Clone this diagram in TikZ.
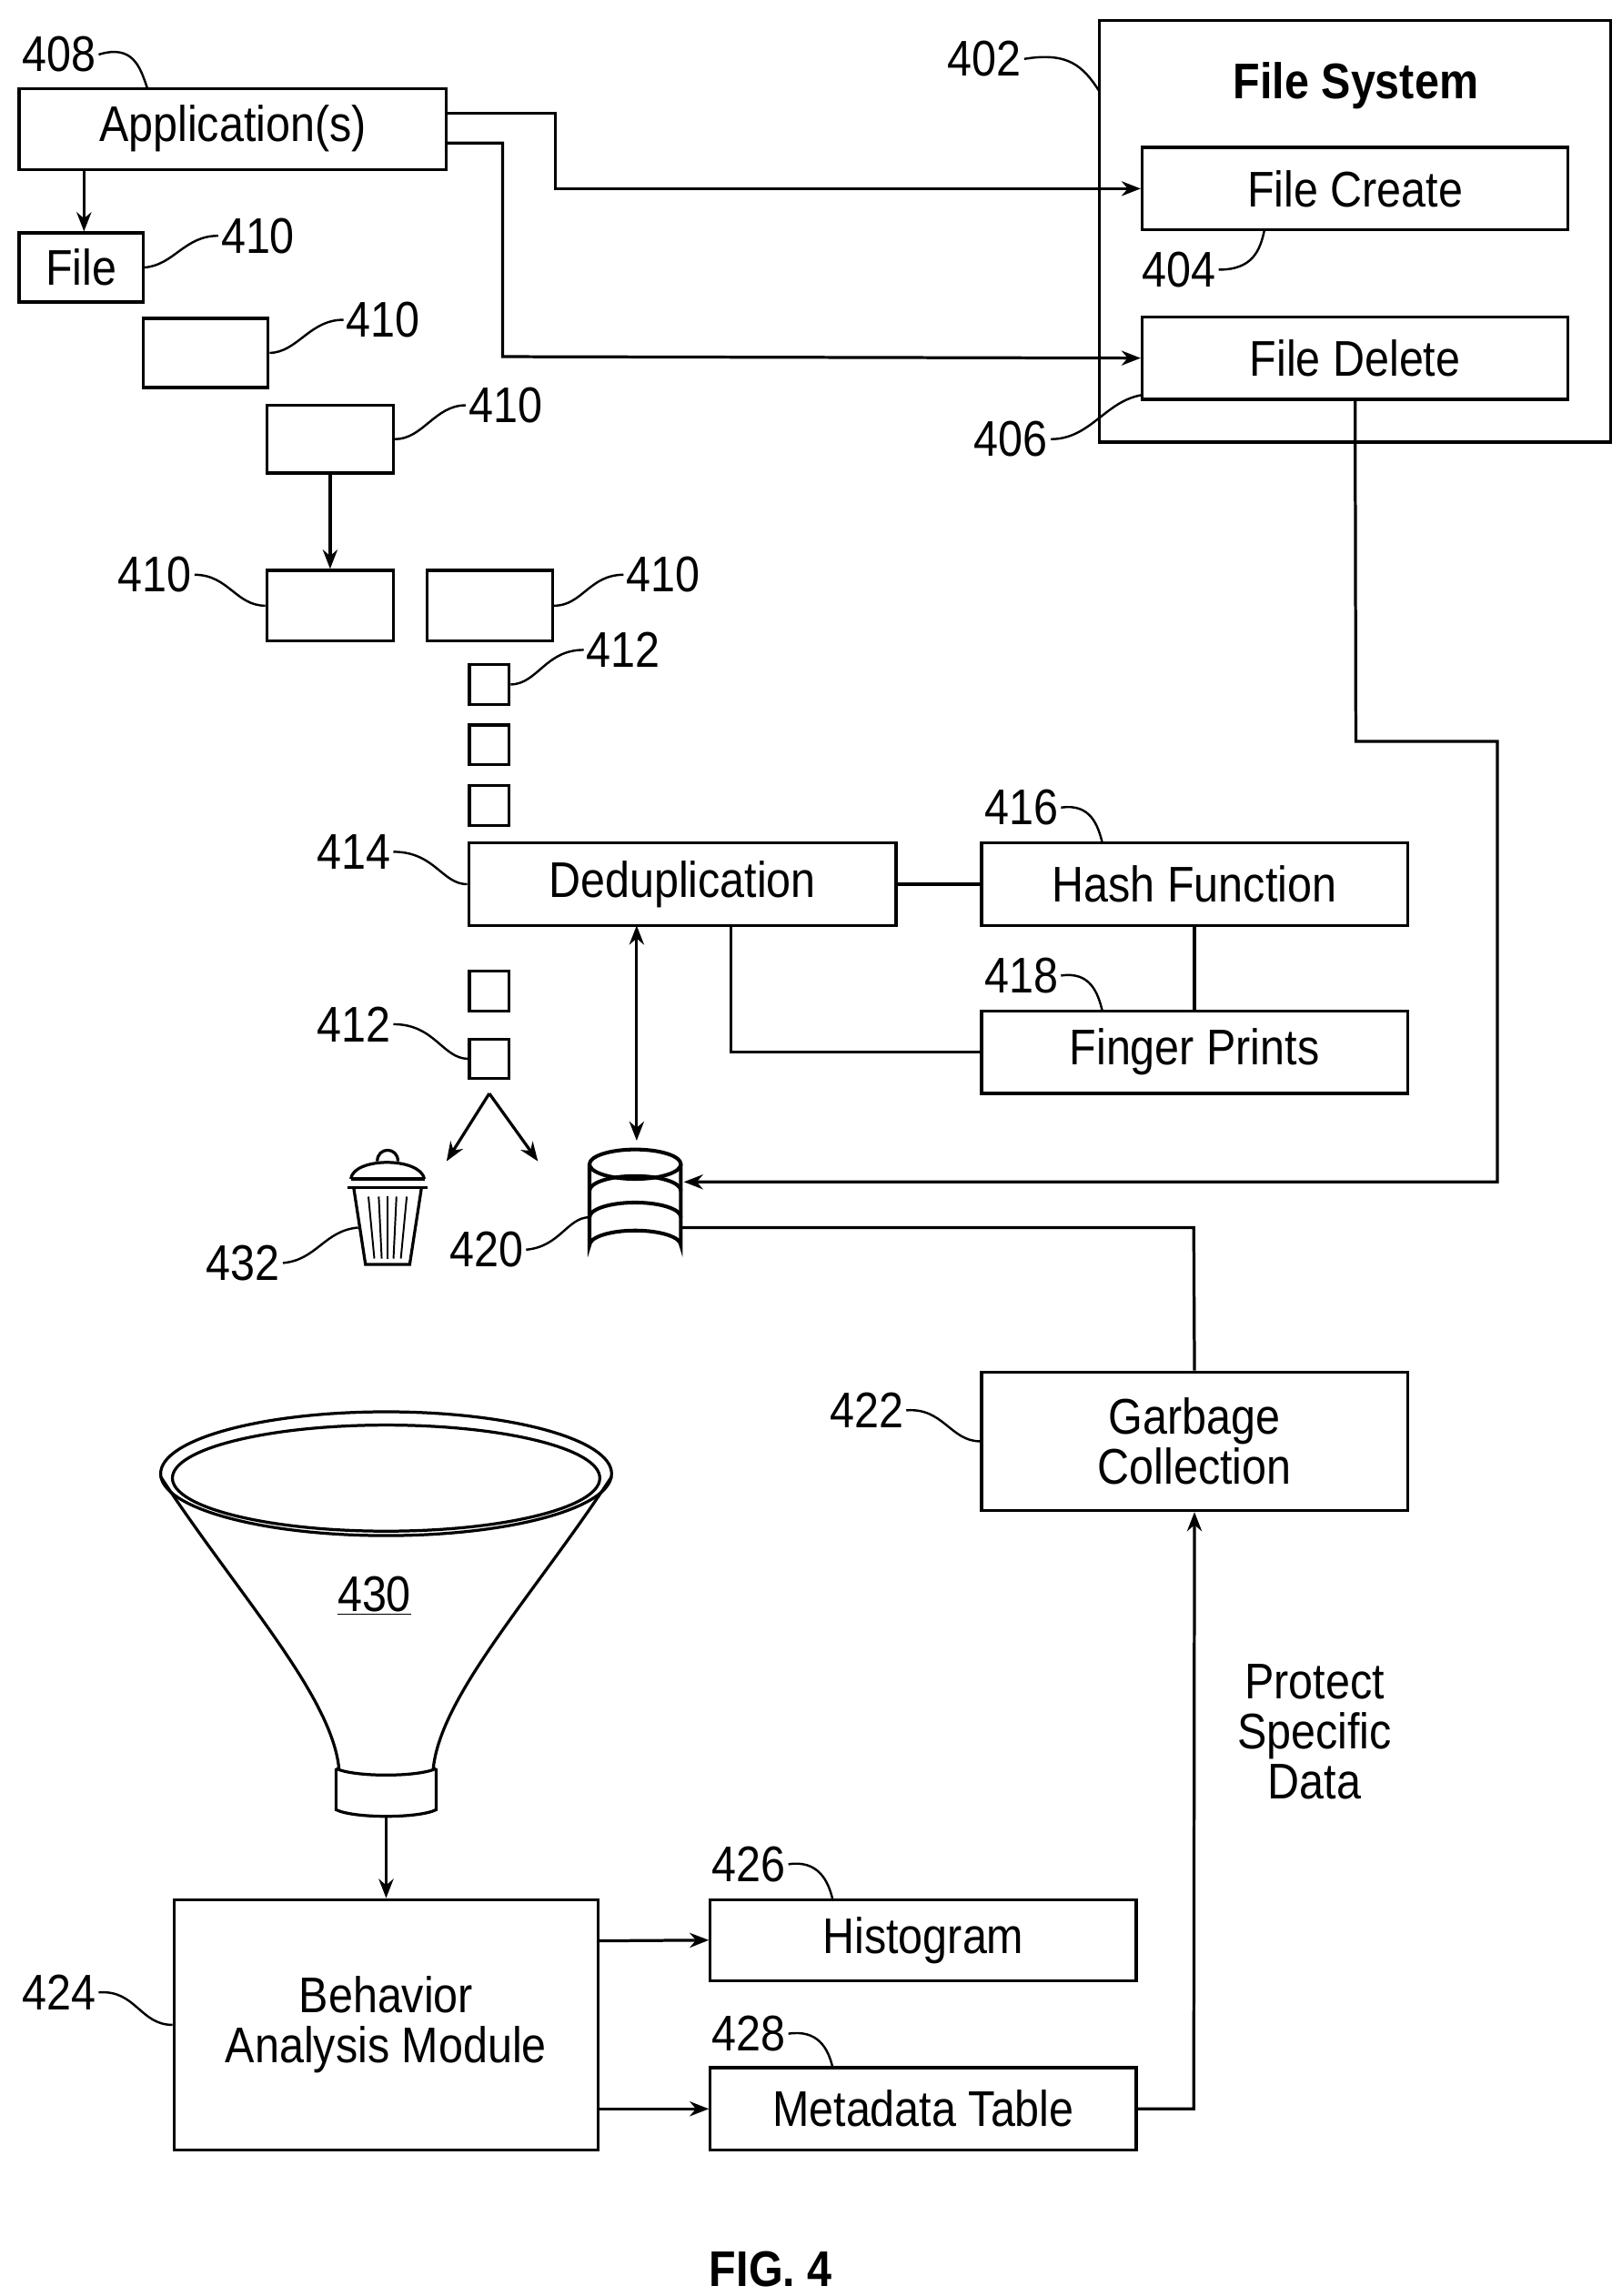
\documentclass[tikz,border=0pt]{standalone}
\usepackage{fontspec}
\setmainfont[FakeStretch=0.88]{Liberation Sans}
\usetikzlibrary{arrows.meta}
\begin{document}
\begin{tikzpicture}[x=1pt,y=-1pt,line width=2pt,
  box/.style={draw,rectangle,inner sep=0pt,font=\fontsize{34}{36}\selectfont},
  lbl/.style={font=\fontsize{34}{36}\selectfont,inner sep=1pt},
  arr/.style={-{Stealth[length=13pt,width=10pt]}},
  sq/.style={draw,minimum size=27pt,inner sep=0pt}]
\useasboundingbox (0,0) rectangle (1100,1558);
% boxes
\node[box,minimum width=290,minimum height=55] (app) at (158,87.5) {Application(s)};
\node[box,minimum width=84,minimum height=47] (file) at (55,181.5) {File};
\node[box,minimum width=85,minimum height=47] (f2) at (139.5,239.5) {};
\node[box,minimum width=86,minimum height=46] (f3) at (224,298) {};
\node[box,minimum width=86,minimum height=48] (f4) at (224,411) {};
\node[box,minimum width=85,minimum height=48] (f5) at (332.5,411) {};
\node[sq] (s1) at (332,464.5) {};
\node[sq] (s2) at (332,505.5) {};
\node[sq] (s3) at (332,546.5) {};
\node[box,minimum width=290,minimum height=56] (dedup) at (463,600) {Deduplication};
\node[box,minimum width=289,minimum height=56] (hash) at (810.5,600) {Hash Function};
\node[box,minimum width=289,minimum height=56] (fp) at (810.5,714) {Finger Prints};
\node[sq] (s4) at (332,672.5) {};
\node[sq] (s5) at (332,718.5) {};
\node[box,minimum width=347,minimum height=286] (fs) at (919.5,157) {};
\node[font=\bfseries\fontsize{34}{36}\selectfont] (fst) at (920,58) {File System};
\node[box,minimum width=289,minimum height=56] (fc) at (919.5,128) {File Create};
\node[box,minimum width=289,minimum height=56] (fd) at (919.5,243) {File Delete};
\node[box,minimum width=289,minimum height=94,align=center] (gc) at (810.5,978) {Garbage\\[-2pt]Collection};
\node[box,minimum width=288,minimum height=170,align=center] (bam) at (262,1374) {Behavior\\[-2pt]Analysis Module};
\node[box,minimum width=289,minimum height=55] (hist) at (626.5,1316.5) {Histogram};
\node[box,minimum width=289,minimum height=56] (meta) at (626.5,1431) {Metadata Table};
\node[lbl,align=center] (prot) at (892,1175) {Protect\\[-2pt]Specific\\[-2pt]Data};
\node[font=\bfseries\fontsize{34}{36}\selectfont] (fig) at (523,1540) {FIG. 4};
% connectors
\draw[arr] (57,115) -- (file.north -| 57,0);
\draw[arr] (224,321) -- (f4.north);
\draw[arr] (303,77) -- (377,77) -- (377,128) -- (fc.west);
\draw[arr] (303,97) -- (341,97) -- (341,242) -- (fd.west);
\draw (dedup.east) -- (hash.west);
\draw (hash.south) -- (fp.north);
\draw (496,628) -- (496,714) -- (fp.west);
\coordinate (split) at (332,742);
\draw[arr] (split) -- (303,788);
\draw[arr] (split) -- (365,788);
% cylinder
\begin{scope}[line width=2.5pt]
\draw[fill=white] (400,790) -- (400,845) arc[start angle=180,end angle=360,x radius=31,y radius=10] -- (462,790);
\draw[fill=white] (431,790) ellipse[x radius=31,y radius=10];
\draw (400,808) arc[start angle=180,end angle=360,x radius=31,y radius=10];
\draw (400,826) arc[start angle=180,end angle=360,x radius=31,y radius=10];
\end{scope}
\draw[{Stealth[length=13pt,width=10pt]}-{Stealth[length=13pt,width=10pt]}] (432,628) -- (432,774);
\draw[arr] (fd.south) -- (920,503) -- (1016,503) -- (1016,802) -- (464,802);
\draw (gc.north) -- (810,833) -- (462,833);
% trash
\draw (240,806) -- (248,858) -- (278,858) -- (286,806);
\foreach \x/\y in {250/254,257/259,263/263,269/267,276/272} \draw[line width=1.2pt] (\x,812) -- (\y,854);
\draw (236,806) -- (290,806);
\draw (238,800) .. controls (240,785) and (285,785) .. (288,800);
\draw (238,800) -- (288,800);
\draw (256,788) .. controls (256,778) and (270,778) .. (270,788);
% funnel
\draw (262,1000) ellipse[x radius=153,y radius=42];
\draw (262,1003) ellipse[x radius=145,y radius=36];
\draw (109,1002) .. controls (160,1080) and (225,1150) .. (230,1200);
\draw (415,1002) .. controls (364,1080) and (299,1150) .. (294,1200);
\draw (228,1200) -- (228,1228) .. controls (240,1234) and (284,1234) .. (296,1228) -- (296,1200);
\draw (228,1200) .. controls (240,1206) and (284,1206) .. (296,1200);
\node[lbl] (n430) at (254,1083) {\underline{430}};
\draw[arr] (262,1232) -- (bam.north);
\draw[arr] (406,1317) -- (hist.west);
\draw[arr] (406,1431) -- (meta.west);
\draw[arr] (meta.east) -- (810,1431) -- (gc.south);
% labels with leaders
\node[lbl] (l408) at (40,37) {408};
\draw[line width=1.5pt] (l408.east) .. controls (90,30) and (95,45) .. (100,60);
\node[lbl] (l410a) at (175,160) {410};
\draw[line width=1.5pt] (file.east) .. controls (118,180) and (125,160) .. (l410a.west);
\node[lbl] (l410b) at (260,217) {410};
\draw[line width=1.5pt] (f2.east) .. controls (202,239) and (210,217) .. (l410b.west);
\node[lbl] (l410c) at (343,275) {410};
\draw[line width=1.5pt] (f3.east) .. controls (287,298) and (295,275) .. (l410c.west);
\node[lbl] (l410d) at (105,390) {410};
\draw[line width=1.5pt] (l410d.east) .. controls (155,390) and (160,411) .. (f4.west);
\node[lbl] (l410e) at (450,390) {410};
\draw[line width=1.5pt] (f5.east) .. controls (395,411) and (400,390) .. (l410e.west);
\node[lbl] (l412a) at (423,441) {412};
\draw[line width=1.5pt] (s1.east) .. controls (365,464) and (370,441) .. (l412a.west);
\node[lbl] (l414) at (240,578) {414};
\draw[line width=1.5pt] (l414.east) .. controls (295,578) and (300,600) .. (dedup.west);
\node[lbl] (l412b) at (240,695) {412};
\draw[line width=1.5pt] (l412b.east) .. controls (295,695) and (300,718) .. (s5.west);
\node[lbl] (l416) at (693,548) {416};
\draw[line width=1.5pt] (l416.east) .. controls (740,545) and (745,560) .. (748,572);
\node[lbl] (l418) at (693,662) {418};
\draw[line width=1.5pt] (l418.east) .. controls (740,659) and (745,674) .. (748,686);
\node[lbl] (l432) at (165,857) {432};
\draw[line width=1.5pt] (l432.east) .. controls (215,855) and (220,835) .. (243,833);
\node[lbl] (l420) at (330,848) {420};
\draw[line width=1.5pt] (l420.east) .. controls (380,846) and (385,826) .. (400,826);
\node[lbl] (l402) at (668,40) {402};
\draw[line width=1.5pt] (l402.east) .. controls (725,35) and (735,45) .. (746,62);
\node[lbl] (l404) at (800,183) {404};
\draw[line width=1.5pt] (l404.east) .. controls (850,183) and (855,170) .. (858,156);
\node[lbl] (l406) at (686,298) {406};
\draw[line width=1.5pt] (l406.east) .. controls (740,298) and (750,272) .. (775,268);
\node[lbl] (l422) at (588,957) {422};
\draw[line width=1.5pt] (l422.east) .. controls (640,955) and (645,978) .. (gc.west);
\node[lbl] (l424) at (40,1352) {424};
\draw[line width=1.5pt] (l424.east) .. controls (92,1350) and (95,1374) .. (bam.west);
\node[lbl] (l426) at (508,1265) {426};
\draw[line width=1.5pt] (l426.east) .. controls (555,1262) and (562,1276) .. (565,1289);
\node[lbl] (l428) at (508,1380) {428};
\draw[line width=1.5pt] (l428.east) .. controls (555,1377) and (562,1390) .. (565,1403);
\end{tikzpicture}
\end{document}
